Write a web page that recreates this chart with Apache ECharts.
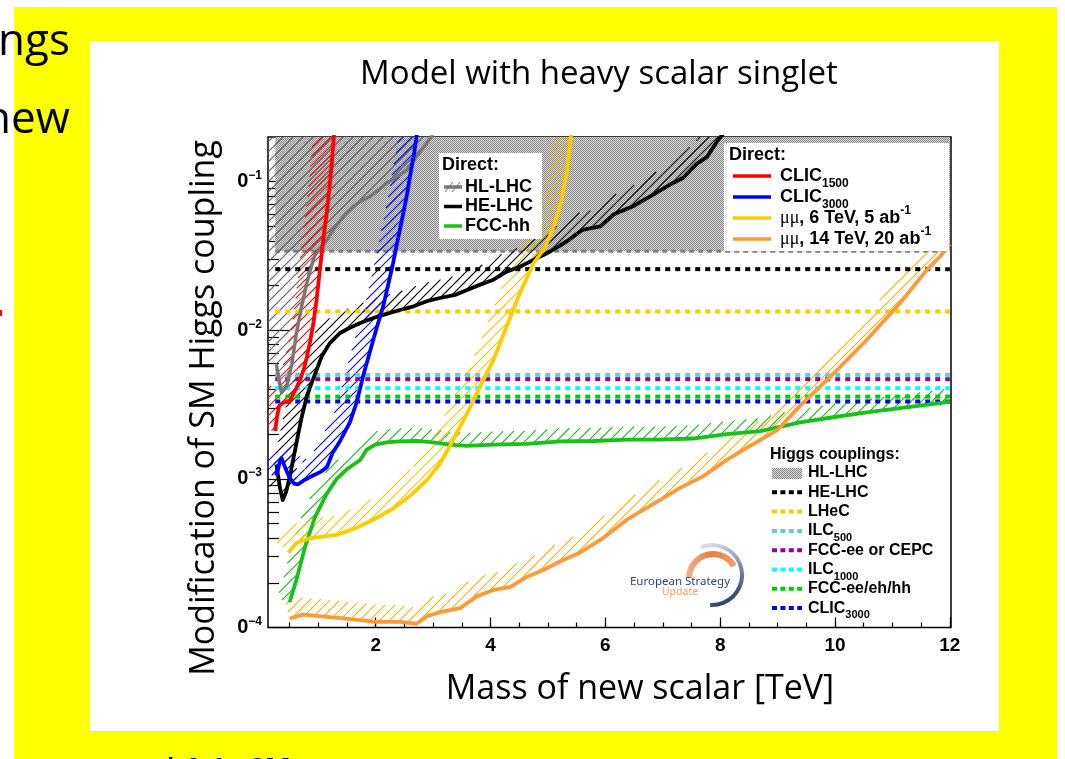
<!DOCTYPE html>
<html>
<head>
<meta charset="utf-8">
<script src="https://cdn.jsdelivr.net/npm/echarts@6/dist/echarts.min.js"></script>
<style>
  html, body { margin: 0; padding: 0; background: #ffffff; }
  #chart { width: 1065px; height: 759px; }
</style>
</head>
<body>
<div id="chart"></div>
<script>
// ---- axis ranges and ticks ----
const xRange = [0.124, 12.02];          // TeV
const yRange = [1e-4, 0.2];             // coupling modification
const massRange = [0.25, 12.0];         // scanned masses (TeV)
const xMajorTicks = [2, 4, 6, 8, 10, 12];
const xMinorTicks = [0.5, 1, 1.5, 2, 2.5, 3, 3.5, 4, 4.5, 5, 5.5, 6, 6.5, 7, 7.5, 8, 8.5, 9, 9.5, 10, 10.5, 11, 11.5, 12];
const yMajorTicks = [1e-4, 1e-3, 1e-2, 1e-1];
const yMinorTicks = [2e-4, 3e-4, 4e-4, 5e-4, 6e-4, 7e-4, 8e-4, 9e-4,
                     2e-3, 3e-3, 4e-3, 5e-3, 6e-3, 7e-3, 8e-3, 9e-3,
                     2e-2, 3e-2, 4e-2, 5e-2, 6e-2, 7e-2, 8e-2, 9e-2];

// ---- indirect reach from Higgs couplings ----
const hlLhcCoupling = 0.034;
const couplingLabels = [['HE-LHC', ''], ['LHeC', ''], ['ILC', '500'], ['FCC-ee or CEPC', ''], ['ILC', '1000'], ['FCC-ee/eh/hh', ''], ['CLIC', '3000']];
const couplingValues = [0.0258, 0.0134, 0.00501, 0.00469, 0.00408, 0.00358, 0.00332];
const couplingColors = ['#000000', '#ffcc00', '#66cccc', '#990099', '#00ffff', '#00cc00', '#0000ff'];

// ---- direct searches: [mass (TeV), coupling modification] ----
const hlLhc = [[0.27,0.0059],[0.31,0.0047],[0.36,0.0038],[0.45,0.0042],[0.54,0.006],[0.62,0.0096],[0.71,0.0145],
  [0.8,0.0208],[0.86,0.0255],[0.94,0.032],[1.0,0.034],[1.15,0.0407],[1.26,0.0475],[1.44,0.0585],[1.61,0.068],
  [1.73,0.0737],[1.9,0.0796],[2.05,0.088],[2.19,0.098],[2.37,0.108],[2.54,0.12],[2.71,0.148],[2.89,0.182],[3.0,0.21]];
const heLhc = [[0.27,0.00125],[0.33,0.00088],[0.38,0.00072],[0.44,0.00082],[0.5,0.00102],[0.6,0.0016],[0.7,0.0025],
  [0.8,0.0036],[0.9,0.0046],[0.97,0.0054],[1.06,0.0067],[1.2,0.0082],[1.38,0.0096],[1.55,0.0104],[1.73,0.0112],
  [1.96,0.0121],[2.13,0.0127],[2.42,0.0137],[2.66,0.0145],[2.89,0.0157],[3.12,0.0165],[3.38,0.0173],[3.59,0.0187],
  [3.82,0.0203],[4.05,0.0219],[4.28,0.0248],[4.51,0.0268],[4.75,0.0298],[4.98,0.033],[5.2,0.037],[5.36,0.0405],
  [5.6,0.0475],[5.91,0.05],[6.15,0.0605],[6.5,0.069],[6.81,0.081],[7.11,0.095],[7.35,0.106],[7.59,0.132],
  [7.77,0.147],[7.96,0.19],[8.05,0.21]];
const fccHh = [[0.5,0.000148],[0.62,0.00021],[0.77,0.00035],[0.94,0.00055],[1.15,0.0008],[1.32,0.001],[1.52,0.00118],
  [1.73,0.00134],[1.84,0.00157],[1.99,0.0017],[2.19,0.00176],[2.42,0.00179],[2.71,0.0018],[3.0,0.00176],[3.29,0.0017],
  [3.59,0.00167],[4.05,0.0017],[4.63,0.00172],[5.21,0.00179],[5.79,0.0018],[6.37,0.00184],[6.95,0.00184],
  [7.53,0.00187],[8.11,0.002],[8.7,0.0021],[9.39,0.0024],[9.97,0.0026],[10.55,0.0028],[11.13,0.003],[12.0,0.0033]];
const clic1500 = [[0.25,0.0021],[0.28,0.0026],[0.32,0.0031],[0.36,0.0032],[0.42,0.0033],[0.5,0.0033],[0.56,0.0037],
  [0.62,0.0041],[0.68,0.0046],[0.75,0.0055],[0.8,0.0066],[0.86,0.0085],[0.92,0.0115],[0.97,0.016],[1.02,0.024],
  [1.06,0.033],[1.1,0.045],[1.15,0.063],[1.2,0.095],[1.24,0.14],[1.27,0.2],[1.29,0.25]];
const clic3000 = [[0.27,0.00105],[0.33,0.0013],[0.36,0.00138],[0.42,0.0012],[0.5,0.00102],[0.58,0.00093],[0.65,0.00092],
  [0.75,0.00098],[0.9,0.00105],[1.05,0.00112],[1.15,0.0012],[1.25,0.0015],[1.38,0.0018],[1.55,0.0024],[1.67,0.0033],
  [1.78,0.0049],[1.9,0.0072],[2.02,0.0105],[2.13,0.0145],[2.22,0.0205],[2.3,0.028],[2.38,0.04],[2.46,0.056],
  [2.54,0.08],[2.6,0.11],[2.66,0.148],[2.71,0.2],[2.74,0.25]];
const muon6 = [[0.48,0.00032],[0.62,0.00037],[0.86,0.0004],[1.32,0.00042],[1.67,0.00047],[1.99,0.00054],[2.3,0.00063],
  [2.6,0.00077],[2.89,0.00098],[3.12,0.00127],[3.29,0.00166],[3.47,0.00225],[3.62,0.0029],[3.82,0.0042],[4.05,0.0063],
  [4.28,0.0106],[4.51,0.0178],[4.75,0.0283],[4.95,0.036],[5.1,0.05],[5.22,0.07],[5.32,0.11],[5.4,0.2],[5.43,0.25]];
const muon14 = [[0.5,0.000115],[0.74,0.000122],[1.15,0.000118],[1.44,0.000115],[1.73,0.000112],[2.02,0.000109],
  [2.42,0.000109],[2.71,0.000106],[2.89,0.000119],[3.12,0.000127],[3.47,0.000135],[3.76,0.000162],[4.05,0.000179],
  [4.34,0.000187],[4.63,0.000219],[4.92,0.000244],[5.21,0.000278],[5.56,0.00032],[5.96,0.0004],[6.37,0.00053],
  [6.66,0.00062],[6.95,0.00072],[7.3,0.00087],[7.7,0.00104],[8.11,0.00134],[8.4,0.00157],[8.7,0.00183],[9.0,0.00214],
  [9.39,0.0031],[9.97,0.0051],[10.55,0.0086],[11.13,0.0152],[11.6,0.0255],[11.83,0.0314],[12.0,0.038]];

// ---- fill pattern for the HL-LHC coupling region ----
function checkerTile() {
  const c = document.createElement('canvas');
  c.width = 2; c.height = 2;
  const g = c.getContext('2d');
  g.fillStyle = '#d8d8d8'; g.fillRect(0, 0, 2, 2);
  g.fillStyle = '#8a8a8a'; g.fillRect(0, 0, 1, 1); g.fillRect(1, 1, 1, 1);
  return { image: c, repeat: 'repeat' };
}
const checker = checkerTile();

// "/" hatch lines (x + y = const in pixels) clipped to a polygon, even-odd rule
function hatchLines(poly, spacing, color, lw) {
  let cmin = Infinity, cmax = -Infinity;
  poly.forEach(p => { const s = p[0] + p[1]; if (s < cmin) cmin = s; if (s > cmax) cmax = s; });
  const out = [];
  for (let c = Math.ceil(cmin / spacing) * spacing; c <= cmax; c += spacing) {
    const xs = [];
    for (let i = 0; i < poly.length; i++) {
      const P = poly[i], Q = poly[(i + 1) % poly.length];
      const sp = P[0] + P[1] - c, sq = Q[0] + Q[1] - c;
      if ((sp < 0) !== (sq < 0)) xs.push(P[0] + sp / (sp - sq) * (Q[0] - P[0]));
    }
    xs.sort((a, b) => a - b);
    for (let k = 0; k + 1 < xs.length; k += 2) {
      out.push({ type: 'line', shape: { x1: xs[k], y1: c - xs[k], x2: xs[k + 1], y2: c - xs[k + 1] },
        style: { stroke: color, lineWidth: lw } });
    }
  }
  return { type: 'group', children: out };
}

// Exclusion band drawn on the upper side of a curve; width and hatch spacing in pixels
function bandSeries(points, color, width, spacing) {
  return {
    type: 'custom', coordinateSystem: 'cartesian2d', clip: true, silent: true, z: 2,
    data: [points[0]],
    renderItem: function (params, api) {
      const pts = points.map(p => api.coord(p));
      const n = pts.length, outer = [];
      for (let i = 0; i < n; i++) {
        const a = pts[Math.max(i - 1, 0)], b = pts[Math.min(i + 1, n - 1)];
        const dx = b[0] - a[0], dy = b[1] - a[1];
        const len = Math.hypot(dx, dy) || 1;
        outer.push([pts[i][0] + dy / len * width, pts[i][1] - dx / len * width]);
      }
      return hatchLines(pts.concat(outer.reverse()), spacing, color, 1.1);
    }
  };
}
// Exclusion region above a curve, reaching the top-left of the frame
function regionAboveSeries(points, color) {
  return {
    type: 'custom', coordinateSystem: 'cartesian2d', clip: true, silent: true, z: 2,
    data: [points[0]],
    renderItem: function (params, api) {
      const pts = points.map(p => api.coord(p));
      const corner = api.coord([xRange[0], yRange[1]]);
      const start = api.coord([xRange[0], points[0][1]]);
      const end = api.coord([points[points.length - 1][0], yRange[1]]);
      return hatchLines([corner, start].concat(pts, [end]), 10, color, 1.1);
    }
  };
}
function curveSeries(name, points, color, width) {
  return { type: 'line', name: name, data: points, symbol: 'none', z: 5, clip: true,
    lineStyle: { color: color, width: width || 3.8, join: 'round' } };
}

const series = [];
// HL-LHC coupling reach: shaded from the line up to the top of the frame
series.push({
  type: 'line', name: 'HL-LHC couplings', data: massRange.map(m => [m, hlLhcCoupling]), symbol: 'none', z: 1,
  lineStyle: { color: '#808080', width: 3, type: [5, 4] },
  areaStyle: { origin: 'end', color: checker, opacity: 1 }
});
// exclusion hatching
series.push(regionAboveSeries(hlLhc, '#666666'));
series.push(bandSeries(heLhc, '#000000', 18, 9));
series.push(bandSeries(fccHh, '#10c010', 13, 10.5));
series.push(bandSeries(clic1500, '#ff0000', 21, 9));
series.push(bandSeries(clic3000, '#0000ff', 18, 9));
series.push(bandSeries(muon6, '#ffc400', 19, 10));
series.push(bandSeries(muon14, '#ffb300', 17, 10));
// dashed coupling lines
couplingValues.forEach((v, i) => {
  series.push({ type: 'line', name: couplingLabels[i].join(''), data: massRange.map(m => [m, v]), symbol: 'none', z: 3,
    lineStyle: { color: couplingColors[i], width: 4, type: [5, 5] } });
});
// direct search curves
series.push(curveSeries('HL-LHC', hlLhc, '#777777', 3.5));
series.push(curveSeries('HE-LHC', heLhc, '#000000'));
series.push(curveSeries('FCC-hh', fccHh, '#18c018'));
series.push(curveSeries('CLIC1500', clic1500, '#ff0000'));
series.push(curveSeries('CLIC3000', clic3000, '#0000ff'));
series.push(curveSeries('mumu 6 TeV', muon6, '#ffcc00'));
series.push(curveSeries('mumu 14 TeV', muon14, '#ff9a3c'));

// ---- text helpers ----
const mctx = document.createElement('canvas').getContext('2d');
function textW(str, font) { mctx.font = font; return mctx.measureText(str).width; }
function txt(x, y, text, font, color, align, extra) {
  return Object.assign({ type: 'text', x: x, y: y, z: 101, silent: true,
    style: { text: text, font: font, fill: color || '#000', align: align || 'left', verticalAlign: 'middle' } }, extra || {});
}
// a run of text pieces; each piece is [text, font, dy, color]
function runs(x, y, parts) {
  const out = [];
  let cx = x;
  parts.forEach(p => {
    out.push(txt(cx, y + (p[2] || 0), p[0], p[1], p[3]));
    cx += textW(p[0], p[1]);
  });
  return out;
}
const FB18 = 'bold 18px "Liberation Sans"';
const FB16 = 'bold 16px "Liberation Sans"';
const FS12 = 'bold 12px "Liberation Sans"';
const FS11 = 'bold 11px "Liberation Sans"';
const FMU = '18px "Liberation Serif"';
const FSLIDE = '"Open Sans"';

const graphic = [];
// slide background
graphic.push({ type: 'rect', z: -20, silent: true, shape: { x: 14, y: 7, width: 1043, height: 752 }, style: { fill: '#ffff00' } });
graphic.push({ type: 'rect', z: -19, silent: true, shape: { x: 90, y: 41, width: 909, height: 690 }, style: { fill: '#ffffff' } });
graphic.push(txt(-2, 42, 'ngs', '44px ' + FSLIDE, '#000'));
graphic.push(txt(-16, 120, 'new', '44px ' + FSLIDE, '#000'));
graphic.push(txt(163, 771, '* 0.1x SM', 'bold 28px ' + FSLIDE, '#000'));
graphic.push({ type: 'rect', z: 5, silent: true, shape: { x: 0, y: 310, width: 2, height: 6 }, style: { fill: '#ff0000' } });

// titles
graphic.push(txt(599, 75, 'Model with heavy scalar singlet', '33px ' + FSLIDE, '#000', 'center'));
graphic.push(txt(640, 689, 'Mass of new scalar [TeV]', '34px ' + FSLIDE, '#000', 'center'));
graphic.push(txt(204, 408, 'Modification of SM Higgs coupling', '34px ' + FSLIDE, '#000', 'center', { rotation: Math.PI / 2 }));

// left legend: direct searches at hadron colliders
graphic.push({ type: 'rect', z: 100, silent: true, shape: { x: 439, y: 153, width: 103, height: 86 }, style: { fill: '#ffffff' } });
graphic.push(txt(442, 165, 'Direct:', FB18));
const leftItems = [['HL-LHC', '#777777', 187], ['HE-LHC', '#000000', 206.5], ['FCC-hh', '#18c018', 226]];
leftItems.forEach(it => {
  graphic.push({ type: 'line', z: 101, silent: true, shape: { x1: 444, y1: it[2], x2: 462, y2: it[2] }, style: { stroke: it[1], lineWidth: 3.5 } });
  graphic.push(txt(465, it[2], it[0], FB18));
});
[449, 456].forEach(x => graphic.push({ type: 'line', z: 102, silent: true,
  shape: { x1: x - 4, y1: 192, x2: x + 4, y2: 182 }, style: { stroke: '#777777', lineWidth: 1 } }));

// right legend: direct searches at lepton colliders
graphic.push({ type: 'rect', z: 100, silent: true, shape: { x: 724, y: 143, width: 225, height: 108 }, style: { fill: '#ffffff' } });
graphic.push(txt(729, 155, 'Direct:', FB18));
const rightItems = [
  ['#ff0000', 176, [['CLIC', FB18], ['1500', FS12, 8]]],
  ['#0000ff', 197, [['CLIC', FB18], ['3000', FS12, 8]]],
  ['#ffcc00', 218, [['\u03bc\u03bc', FMU], [', 6 TeV, 5 ab', FB18], ['-1', FS12, -7]]],
  ['#ff9a3c', 239, [['\u03bc\u03bc', FMU], [', 14 TeV, 20 ab', FB18], ['-1', FS12, -7]]]
];
rightItems.forEach(it => {
  graphic.push({ type: 'line', z: 101, silent: true, shape: { x1: 733, y1: it[1], x2: 771, y2: it[1] }, style: { stroke: it[0], lineWidth: 3.5 } });
  runs(780, it[1], it[2]).forEach(e => graphic.push(e));
});

// Higgs couplings legend
graphic.push(txt(770, 455, 'Higgs couplings:', FB16));
graphic.push({ type: 'rect', z: 101, silent: true, shape: { x: 772, y: 468, width: 30, height: 11 }, style: { fill: checker } });
graphic.push(txt(808, 473, 'HL-LHC', FB16));
couplingLabels.forEach((lab, i) => {
  const y = 492.3 + i * 19.3;
  graphic.push({ type: 'line', z: 101, silent: true, shape: { x1: 772, y1: y, x2: 802, y2: y },
    style: { stroke: couplingColors[i], lineWidth: 4, lineDash: [5, 3.4] } });
  const parts = [[lab[0], FB16]];
  if (lab[1]) parts.push([lab[1], FS11, 7]);
  runs(808, y, parts).forEach(e => graphic.push(e));
});

// European Strategy Update mark
graphic.push({ type: 'arc', z: 50, silent: true, shape: { cx: 713, cy: 578, r: 24, startAngle: Math.PI, endAngle: Math.PI * 11 / 6, clockwise: true },
  style: { fill: null, lineWidth: 6, stroke: new echarts.graphic.LinearGradient(0, 0, 1, 0, [
    { offset: 0, color: '#f6b48a' }, { offset: 0.5, color: '#ec7a3c' }, { offset: 1, color: '#f3a070' }]) } });
graphic.push({ type: 'arc', z: 50, silent: true, shape: { cx: 712, cy: 575, r: 30, startAngle: Math.PI * 1.38, endAngle: Math.PI * 2.52, clockwise: true },
  style: { fill: null, lineWidth: 4, stroke: new echarts.graphic.LinearGradient(0, 0, 0.6, 1, [
    { offset: 0, color: '#e6e9ef' }, { offset: 0.55, color: '#7d8cab' }, { offset: 1, color: '#23396a' }]) } });
graphic.push(txt(680, 582, 'European Strategy', '11.5px "Noto Sans"', '#2b4677', 'center', { z: 60 }));
graphic.push(txt(680, 592, 'Update', '10.5px "Noto Sans"', '#f2a06e', 'center', { z: 60 }));

const labelFont = { fontFamily: 'Liberation Sans', fontWeight: 'bold', color: '#000' };
const option = {
  animation: false,
  backgroundColor: '#ffffff',
  grid: { left: 268, top: 137, right: 114, bottom: 131.5, show: true, borderColor: '#000', borderWidth: 1.5,
    backgroundColor: 'transparent', outerBoundsMode: 'none' },
  xAxis: [
    { type: 'value', min: xRange[0], max: xRange[1], position: 'bottom', splitLine: { show: false }, axisLine: { show: false },
      axisTick: { show: true, inside: true, length: 10, customValues: xMajorTicks, lineStyle: { color: '#000', width: 1.2 } },
      axisLabel: Object.assign({ customValues: xMajorTicks, margin: 9, fontSize: 19 }, labelFont) },
    { type: 'value', min: xRange[0], max: xRange[1], position: 'bottom', splitLine: { show: false }, axisLine: { show: false },
      axisTick: { show: true, inside: true, length: 5, customValues: xMinorTicks, lineStyle: { color: '#000', width: 1.2 } },
      axisLabel: { show: false } }
  ],
  yAxis: [
    { type: 'log', logBase: 10, min: yRange[0], max: yRange[1], position: 'left', splitLine: { show: false }, axisLine: { show: false },
      axisTick: { show: true, inside: true, length: 22, customValues: yMajorTicks, lineStyle: { color: '#000', width: 1.2 } },
      axisLabel: {
        customValues: yMajorTicks, margin: 6,
        formatter: v => '{b|0}{s|\u2212' + Math.round(-Math.log10(v)) + '}',
        rich: {
          b: Object.assign({ fontSize: 20, lineHeight: 24 }, labelFont),
          s: Object.assign({ fontSize: 12, lineHeight: 12, verticalAlign: 'top' }, labelFont)
        }
      } },
    { type: 'log', logBase: 10, min: yRange[0], max: yRange[1], position: 'left', splitLine: { show: false }, axisLine: { show: false },
      axisTick: { show: true, inside: true, length: 11, customValues: yMinorTicks, lineStyle: { color: '#000', width: 1.2 } },
      axisLabel: { show: false } }
  ],
  series: series,
  graphic: graphic
};

const chart = echarts.init(document.getElementById('chart'), null, { renderer: 'canvas', width: 1065, height: 759 });
chart.setOption(option);
</script>
</body>
</html>
